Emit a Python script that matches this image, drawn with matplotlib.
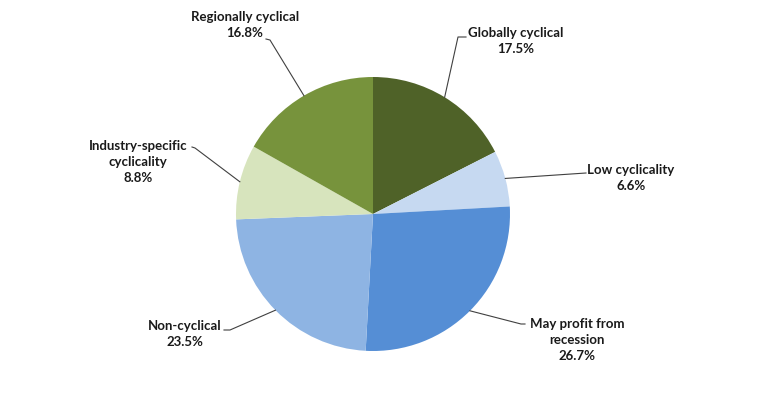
import matplotlib.pyplot as plt
import numpy as np

# slices, clockwise from 12 o'clock
labels = ["Globally cyclical", "Low cyclicality", "May profit from\nrecession",
          "Non-cyclical", "Industry-specific\ncyclicality", "Regionally cyclical"]
shares = [17.5, 6.6, 26.7, 23.5, 8.8, 16.8]
colors = ["#4F6228", "#C6D9F1", "#558ED5", "#8EB4E3", "#D7E4BD", "#77933C"]

W, H = 768, 398
cx, cy, r = 373, H - 214, 137

# where each label goes (text centre) and the elbow of its leader line
text_pos = [(516, H - 41), (631, H - 178), (577, H - 340),
            (185, H - 334), (138, H - 162), (245, H - 25)]
elbow = [[(458, H - 37), (466, H - 37)],
         [(586, H - 173)],
         [(521, H - 324), (525, H - 324)],
         [(230, H - 330), (224, H - 330)],
         [(195, H - 148), (192, H - 147)],
         [(270, H - 40), (266, H - 39)]]

fig = plt.figure(figsize=(W / 100, H / 100), dpi=100)
ax = fig.add_axes([0, 0, 1, 1])

wedges, _ = ax.pie(shares, colors=colors, startangle=90, counterclock=False,
                   center=(cx, cy), radius=r, frame=True,
                   wedgeprops=dict(linewidth=0))
ax.set_xlim(0, W)
ax.set_ylim(0, H)
ax.set_aspect("equal")
ax.axis("off")

for w, lab, val, tp, el in zip(wedges, labels, shares, text_pos, elbow):
    mid = np.deg2rad((w.theta1 + w.theta2) / 2)
    p0 = (cx + r * np.cos(mid), cy + r * np.sin(mid))
    xs, ys = zip(*([p0] + el))
    ax.plot(xs, ys, color="#404040", lw=0.8)
    ax.text(tp[0], tp[1], "{}\n{:.1f}%".format(lab, val), ha="center", va="center",
            fontsize=9.5, fontweight="bold", family="Lato", linespacing=1.4,
            color="#1a1a1a")

fig.savefig("out.png", dpi=100)
